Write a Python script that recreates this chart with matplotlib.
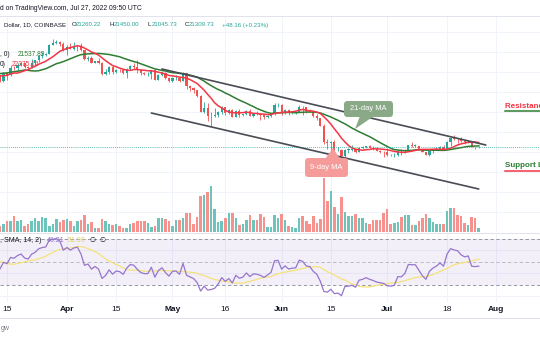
import numpy as np
import pandas as pd
import matplotlib
matplotlib.use("Agg")
import matplotlib.pyplot as plt
from matplotlib.patches import FancyBboxPatch, Polygon

plt.rcParams['font.family'] = ['Liberation Sans', 'DejaVu Sans']

# daily closes before the visible window (Jan 20 - Mar 12), only feed the MAs / RSI
warmup_closes = [38700, 36450, 35070, 36270, 36650, 36950, 36830, 37160, 37710, 38150, 37920, 38480,
                 38740, 36950, 37080, 41570, 41380, 42410, 43840, 44120, 44370, 43500, 42390, 42220,
                 42070, 42550, 44560, 43900, 40560, 40000, 40100, 38380, 37000, 38250, 37260, 38330,
                 39220, 39120, 37700, 43190,
                 44420, 43920, 42460, 39140, 39400, 38420, 37990, 38730, 41940, 39440, 38730, 38810]

start = "2022-03-13"
dates = pd.date_range(start, "2022-07-27")

closes = [37790, 39670, 39280, 41120, 40920, 41760, 42200, 41260, 41000, 42360, 42890, 43960, 44330,
          44530, 46820, 47130, 47450, 47060, 45510,
          46280, 45810, 46400, 46620, 45500, 43170, 43440, 42250, 42760, 42150, 39530, 40070, 41150,
          39940, 40550, 40380, 39680, 40800, 41500, 41370, 40480, 39710, 39450, 39450, 40430, 38110,
          39240, 39740, 38600, 37640,
          38470, 38520, 37730, 39700, 36550, 36010, 35470, 34060, 30080, 31020, 28940, 29050, 29280,
          30080, 31310, 29860, 30430, 28710, 30300, 29200, 29430, 30300, 29100, 29650, 29540, 29200,
          28630, 29030, 29470, 31730, 31800,
          29800, 30450, 29700, 29860, 29910, 31370, 31130, 30210, 30110, 29090, 28420, 26570, 22490,
          22130, 22580, 20380, 20470, 19000, 20550, 20570, 20720, 19970, 21090, 21230, 21490, 21040,
          20730, 20280, 20100, 19930,
          19300, 19240, 19300, 20230, 20190, 20550, 21630, 21590, 21590, 20850, 19960, 19330, 20210,
          20580, 20830, 21190, 20780, 22430, 23390, 23230, 23150, 22680, 22450, 22580, 21310, 21260,
          21309.73]
highs = [39300, 39900, 39900, 41700, 41450, 42300, 42400, 42300, 41500, 43350, 42980, 44200, 45000,
         44800, 46900, 48200, 48100, 47700, 47600,
         46650, 47200, 47400, 46850, 47200, 45500, 43900, 43950, 42800, 43400, 42400, 40700, 41550,
         41500, 40850, 40700, 40600, 41100, 41750, 42150, 42950, 40800, 39970, 39900, 40600, 40800,
         39450, 40350, 39900, 38800,
         38650, 39150, 38650, 39950, 39800, 36650, 36150, 35500, 34250, 32600, 32150, 30100, 30950,
         30300, 31450, 31300, 30750, 30650, 30500, 30700, 29600, 30450, 30650, 29800, 30200, 29850,
         29350, 29200, 29550, 32200, 32350,
         31950, 30650, 30700, 29950, 30150, 31750, 31550, 31350, 30650, 30350, 29450, 28550, 26900,
         23300, 22750, 22950, 21350, 20750, 20800, 20950, 21700, 20850, 21200, 21550, 21600, 21850,
         21500, 21200, 20400, 20150,
         20900, 19450, 19650, 20300, 20700, 20650, 21800, 22500, 21950, 21600, 20850, 20050, 20250,
         20850, 21200, 21550, 21650, 22750, 23750, 24250, 23400, 23750, 22950, 23000, 22650, 21350,
         21450.00]
lows = [37600, 37600, 38120, 38900, 40550, 40150, 41500, 40950, 40500, 40900, 41800, 42600, 43600,
        44100, 44400, 46650, 46950, 46600, 45200,
        44250, 45650, 45550, 45150, 45350, 43100, 42750, 42150, 42150, 42000, 39200, 39250, 39550,
        39580, 39770, 39990, 39550, 38550, 40600, 40850, 39750, 39200, 39300, 39000, 38200, 37900,
        37900, 38900, 38200, 37600,
        37400, 38050, 37500, 37700, 35850, 35250, 34800, 33700, 30050, 29750, 27700, 26550, 28750,
        28650, 29500, 29200, 29450, 28650, 28700, 28750, 28950, 29250, 28900, 28650, 29300, 28050,
        28250, 28550, 28850, 29300, 31250,
        29350, 29600, 29300, 29500, 29500, 29900, 29250, 29850, 29950, 28850, 28100, 26550, 21950,
        20850, 20100, 20250, 20250, 17600, 17950, 19650, 20350, 19800, 19900, 20750, 20900, 21000,
        20500, 20200, 19850, 18650,
        19000, 18950, 18800, 19050, 19300, 19800, 20250, 21200, 21350, 20650, 19900, 19250, 18900,
        19650, 20400, 20500, 20750, 20750, 21600, 22900, 22350, 22500, 21950, 22250, 21250, 20700,
        21045.73]
first_open = 38810
last_open = 21260.22
# volume, thousand BTC
volumes = [12, 16, 22, 22, 32, 22, 24, 12, 16, 22, 28, 22, 30, 28, 12, 16, 26, 20, 24,
           26, 22, 12, 22, 24, 34, 16, 20, 8, 8, 26, 22, 16, 14, 16, 12, 8, 8, 16, 18, 22, 22, 22,
           18, 10, 12, 28, 28, 26, 22,
           12, 24, 24, 28, 38, 38, 16, 30, 72, 74, 80, 92, 46, 20, 22, 28, 38, 38, 28, 14, 16, 24,
           34, 24, 24, 36, 30, 10, 10, 34, 28,
           36, 24, 12, 10, 8, 28, 32, 22, 16, 32, 18, 26, 108, 62, 82, 50, 36, 70, 40, 32, 32, 36,
           28, 28, 18, 16, 24, 24, 24, 38,
           46, 16, 18, 20, 30, 34, 34, 14, 14, 22, 28, 36, 28, 20, 16, 16, 16, 42, 48, 48, 34, 32,
           18, 14, 30, 28, 8]

tick_dates = ["2022-03-15", "2022-04-01", "2022-04-15", "2022-05-01", "2022-05-16",
              "2022-06-01", "2022-06-15", "2022-07-01", "2022-07-18", "2022-08-01"]
tick_labels = ["15", "Apr", "15", "May", "16", "Jun", "15", "Jul", "18", "Aug"]

# hand-drawn channel (date, price)
upper_channel = (["2022-04-28", "2022-07-29"], [40750, 21750])
lower_channel = (["2022-04-25", "2022-07-27"], [29750, 10750])

UP, DOWN = '#26a69a', '#ef5350'


def day(d):
    return (pd.Timestamp(d) - pd.Timestamp(start)).days


def rsi(c, n=14):
    diff = np.diff(c)
    up = np.clip(diff, 0, None)
    dn = np.clip(-diff, 0, None)
    out = np.full(len(c), np.nan)
    au, ad = up[:n].mean(), dn[:n].mean()
    out[n] = 100 - 100 / (1 + au / ad)
    for i in range(n, len(diff)):
        au = (au * (n - 1) + up[i]) / n
        ad = (ad * (n - 1) + dn[i]) / n
        out[i + 1] = 100 - 100 / (1 + au / ad)
    return out


full = pd.Series(warmup_closes + closes)
nw = len(warmup_closes)
ma9 = full.rolling(9).mean().values[nw:]
ma21 = full.rolling(21).mean().values[nw:]
rsi_full = pd.Series(rsi(full.values))
rsi_v = rsi_full.values[nw:]
rsi_ma = rsi_full.rolling(14).mean().values[nw:]

c = np.array(closes)
o = np.array([first_open] + closes[:-1])
o[-1] = last_open
h = np.array(highs)
l = np.array(lows)
x = np.array([day(d) for d in dates])
col = np.where(c >= o, UP, DOWN)
vcol = np.where(c >= o, '#6cc4bb', '#f7918e')

W, H = 540, 340
fig = plt.figure(figsize=(W / 100, H / 100), dpi=100)


def fx(px):
    return px / W


def fy(py):
    return 1 - py / H


ax = fig.add_axes([0, fy(232), 1, (232 - 16) / H])
axv = ax.twinx()
ax.set_zorder(2)
axv.set_zorder(1)
ax.patch.set_visible(False)
axr = fig.add_axes([0, fy(302), 1, (302 - 233) / H])

xlim = (0.01, 153.4)
ticks = [day(d) for d in tick_dates]
grid_c = '#f0f3fa'

# volume
vtop = max(volumes) * 215 / 54
axv.bar(x, volumes, width=0.72, color=vcol, linewidth=0)
axv.set_ylim(0, vtop)
for t in ticks:
    axv.axvline(t, color=grid_c, lw=0.7, zorder=0)
for p in range(5000, 55000, 5000):
    axv.axhline(p * vtop / 54000, color=grid_c, lw=0.7, zorder=0)

# candles
ax.vlines(x, l, h, colors=col, lw=0.6)
ax.bar(x, np.maximum(np.abs(c - o), 80), bottom=np.minimum(o, c), width=0.62, color=col, linewidth=0)
ax.plot(x, ma21, color='#2e7d32', lw=1.1)
ax.plot(x, ma9, color='#f23645', lw=1.1)
ax.axhline(c[-1], color=UP, lw=0.6, ls=(0, (1, 1.5)))
for xs, ys in (upper_channel, lower_channel):
    ax.plot([day(d) for d in xs], ys, color='#4a4c55', lw=1.2, solid_capstyle='round')
ax.set_ylim(0, 54000)

# RSI
axr.axhspan(30, 70, color='#7e57c2', alpha=0.09, lw=0)
for t in ticks:
    axr.axvline(t, color=grid_c, lw=0.7, zorder=0)
for g in (20, 40, 60):
    axr.axhline(g, color=grid_c, lw=0.7, zorder=0)
for g, a in ((70, 1), (50, 0.6), (30, 1)):
    axr.axhline(g, color='#9598a1', lw=0.7, ls=(0, (3.5, 2.5)), alpha=a)
axr.plot(x, rsi_ma, color='#f5e27a', lw=0.9)
axr.plot(x, rsi_v, color='#9575cd', lw=0.9)
axr.set_ylim(15, 75)

for a in (ax, axv, axr):
    a.set_xlim(*xlim)
    a.set_yticks([])
    for s in a.spines.values():
        s.set_visible(False)
ax.set_xticks([])
axv.set_xticks([])
axr.set_xticks(ticks)
axr.set_xticklabels(tick_labels)
axr.tick_params(axis='x', length=0, pad=3, labelsize=6, colors='#131722')
for lab in axr.get_xticklabels():
    if not lab.get_text().isdigit():
        lab.set_fontweight('bold')

# separators
for py in (16, 232.5, 318):
    fig.add_artist(plt.Line2D([0, 1], [fy(py), fy(py)], color='#e0e3eb', lw=0.7))

# header
hs = 4.4
fig.text(fx(0), fy(8), "d on TradingView.com, Jul 27, 2022 09:50 UTC", fontsize=4.9, color='#131722',
         va='center')
fig.text(fx(4), fy(25), "Dollar, 1D, COINBASE", fontsize=hs, color='#131722', va='center')
for px, k, v in ((72, "O", "21260.22"), (110, "H", "21450.00"), (148, "L", "21045.73"),
                 (185, "C", "21309.73")):
    fig.text(fx(px), fy(25), k, fontsize=hs, color='#131722', va='center')
    fig.text(fx(px + 4), fy(25), v, fontsize=hs, color=UP, va='center')
fig.text(fx(222), fy(25), "+48.16 (+0.23%)", fontsize=hs, color=UP, va='center')

# MA legend
fig.text(fx(0), fy(55), ", 0)", fontsize=4.8, color='#131722', va='center')
fig.text(fx(18), fy(55), "21537.89", fontsize=4.8, color='#2e7d32', va='center')
fig.text(fx(0), fy(65), "0)", fontsize=4.8, color='#131722', va='center', zorder=5)
fig.text(fx(12), fy(65), "22375.14", fontsize=4.8, color='#f23645', va='center', zorder=5)

# RSI legend
fig.text(fx(0), fy(240.5), ", SMA, 14, 2)", fontsize=5, color='#131722', va='center')
fig.text(fx(47), fy(240.5), "46.21", fontsize=5, color='#9575cd', va='center')
fig.text(fx(68), fy(240.5), "51.99", fontsize=5, color='#e8d25a', va='center')
fig.text(fx(90), fy(240.5), "\u2205", fontsize=5, color='#131722', va='center')
fig.text(fx(99), fy(240.5), "\u2205", fontsize=5, color='#131722', va='center')

fig.text(fx(1), fy(329), "gw", fontsize=5, color='#787b86', va='center')


# callouts (pixel coords)
def callout(x0, y0, x1, y1, tail, color, text):
    tr = fig.dpi_scale_trans
    box = FancyBboxPatch((x0 / 100, (H - y1) / 100), (x1 - x0) / 100, (y1 - y0) / 100,
                         boxstyle="round,pad=0,rounding_size=0.035", transform=tr,
                         fc=color, ec='none', zorder=6)
    fig.add_artist(box)
    fig.add_artist(Polygon([(px / 100, (H - py) / 100) for px, py in tail], closed=True,
                           transform=tr, fc=color, ec='none', zorder=6))
    fig.text(fx((x0 + x1) / 2), fy((y0 + y1) / 2), text, fontsize=5.4, color='white',
             ha='center', va='center', zorder=7)


callout(344, 101, 393, 117, [(360, 116), (374, 116), (355, 129)], '#8aa987', "21-day MA")
callout(305, 158, 348, 177, [(325, 159), (340, 159), (333, 148)], '#f59c9b', "9-day MA")

# support / resistance labels (cut at the right edge, as in the source screenshot)
fig.text(fx(505), fy(106), "Resistance Level", fontsize=5.8, fontweight='bold', color='#f23645',
         va='center')
fig.add_artist(plt.Line2D([fx(505), 1], [fy(111.5), fy(111.5)], color='#2e7d32', lw=1.1))
fig.text(fx(505), fy(165), "Support Level", fontsize=5.8, fontweight='bold', color='#2e7d32',
         va='center')
fig.add_artist(plt.Line2D([fx(505), 1], [fy(171), fy(171)], color='#f23645', lw=1.1))

fig.savefig("out.png", dpi=100)
